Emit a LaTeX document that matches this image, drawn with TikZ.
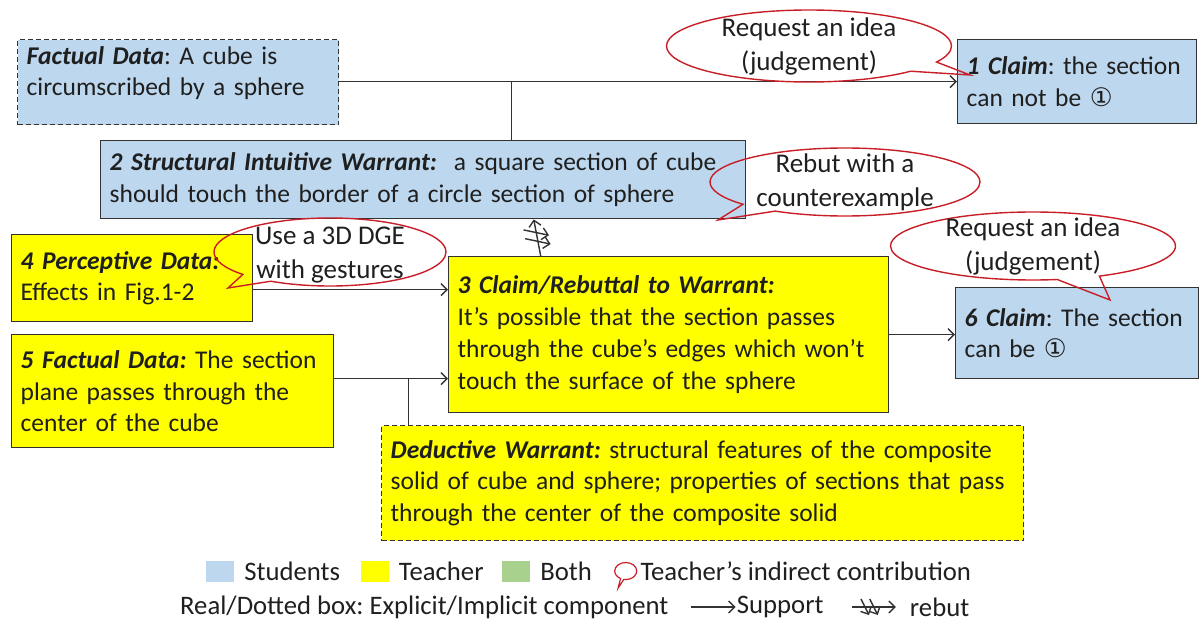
\documentclass[tikz,border=0pt]{standalone}
\usepackage{fontspec}
\setmainfont{Carlito}
\newfontfamily\circfont{DejaVu Sans}
\usepackage{xcolor}
\usetikzlibrary{arrows.meta, positioning, shapes.geometric, shapes.callouts, calc, decorations.markings}
\definecolor{stublue}{RGB}{189,215,238}
\definecolor{teachyel}{RGB}{255,255,0}
\definecolor{bothgreen}{RGB}{169,209,142}
\definecolor{hintred}{RGB}{200,30,40}
\newcommand{\lbl}[1]{\textbf{\textit{#1}}}
\newcommand{\one}{{\circfont\char"2460}}
\frenchspacing

\begin{document}
\begin{tikzpicture}[x=1pt, y=-1pt,
    every node/.style={font=\fontsize{25.5}{31.8}\selectfont, text=black!88},
    box/.style={rectangle, draw=black!80, line width=1.4pt, anchor=north west, align=left, inner xsep=9pt, inner ysep=0pt},
    students/.style={box, fill=stublue},
    teacher/.style={box, fill=teachyel},
    implicit/.style={dash pattern=on 5pt off 3pt},
    link/.style={draw=black!80, line width=1.4pt},
    support/.style={link, -{Straight Barb[length=6pt,width=12pt]}},
    rebut/.style={support, postaction={decorate}, decoration={markings,
        mark=at position 0.4 with {\draw[line width=1.4pt] (5pt,12pt) -- (-5pt,-12pt);},
        mark=at position 0.64 with {\draw[line width=1.4pt] (5pt,12pt) -- (-5pt,-12pt);}}},
    keyrebut/.style={support, postaction={decorate}, decoration={markings,
        mark=at position 0.3 with {\draw[line width=1.4pt] (-4pt,8pt) -- (4pt,-8pt);},
        mark=at position 0.5 with {\draw[line width=1.4pt] (-4pt,8pt) -- (4pt,-8pt);}}},
    hint/.style={ellipse callout, draw=hintred, line width=1.4pt, callout pointer arc=18},
    hinttext/.style={align=center, inner sep=0pt, font=\fontsize{27}{34}\selectfont},
    keysq/.style={rectangle, minimum width=28pt, minimum height=21pt, inner sep=0pt},
    keytext/.style={inner sep=0pt, anchor=west, font=\fontsize{26.7}{32}\selectfont}
  ]
  \useasboundingbox (0,0) rectangle (1200,623);

  \node[students, implicit, minimum width=321, minimum height=85, text width=303, text depth=54pt] (fact0) at (17,39)
    {\lbl{Factual Data}: A cube is\\circumscribed by a sphere};
  \node[students, minimum width=239, minimum height=84, text width=221] (claim1) at (957,39)
    {\lbl{1 Claim}: the section\\can not be \one};
  \node[students, minimum width=645, minimum height=78, text width=627] (warrant2) at (100,140)
    {\lbl{2 Structural Intuitive Warrant:}\ \ a square section of cube\\should touch the border of a circle section of sphere};
  \node[teacher, minimum width=241, minimum height=87, text width=223] (percep4) at (11,234)
    {\lbl{4 Perceptive Data:}\\Effects in Fig.1-2};
  \node[teacher, minimum width=322, minimum height=113, text width=304] (fact5) at (11,334)
    {\lbl{5 Factual Data:} The section\\plane passes through the\\center of the cube};
  \node[teacher, minimum width=440, minimum height=156, text width=422] (claim3) at (448,256)
    {\lbl{3 Claim/Rebuttal to Warrant:}\\It's possible that the section passes\\through the cube's edges which won't\\touch the surface of the sphere};
  \node[students, minimum width=243, minimum height=91, text width=225] (claim6) at (955,287)
    {\lbl{6 Claim}: The section\\can be \one};
  \node[teacher, implicit, minimum width=642, minimum height=115, text width=624] (deduct) at (381,425)
    {\lbl{Deductive Warrant:} structural features of the composite\\solid of cube and sphere; properties of sections that pass\\through the center of the composite solid};

  \draw[support] (fact0.east |- claim1.west) -- (claim1.west);
  \coordinate (j1) at ($(fact0.east |- claim1.west)!0.279!(claim1.west)$);
  \draw[link] (j1) -- (j1 |- warrant2.north);
  \draw[rebut] ($(claim3.north west)!0.21!(claim3.north east)$) -- ($(warrant2.south west)!0.671!(warrant2.south east)$);
  \draw[support] ([yshift=-11.5pt]percep4.east) -- ([yshift=-11.5pt]percep4.east -| claim3.west);
  \draw[support] ([yshift=12.5pt]fact5.east) -- ([yshift=12.5pt]fact5.east -| claim3.west);
  \coordinate (j2) at ($([yshift=12.5pt]fact5.east)!0.65!([yshift=12.5pt]fact5.east -| claim3.west)$);
  \draw[link] (j2) -- (j2 |- deduct.north);
  \draw[support] (claim3.east) -- (claim3.east -| claim6.west);

  \node[hint, minimum width=285, minimum height=72, callout absolute pointer={(970,75)}] (hintA) at (809,46) {};
  \node[hinttext] (hintAtxt) at (hintA.center) {Request an idea\\(judgement)};
  \node[hint, minimum width=270, minimum height=68, callout absolute pointer={(718,220)}] (hintB) at (845,182) {};
  \node[hinttext] (hintBtxt) at (hintB.center) {Rebut with a\\counterexample};
  \node[hint, minimum width=232, minimum height=68, callout absolute pointer={(228,288)}] (hintC) at (330,252) {};
  \node[hinttext] (hintCtxt) at ([yshift=-3pt]hintC.center) {Use a 3D DGE\\with gestures};
  \node[hint, minimum width=285, minimum height=68, callout absolute pointer={(1110,300)}] (hintD) at (1033,246) {};
  \node[hinttext] (hintDtxt) at (hintD.center) {Request an idea\\(judgement)};

  \node[keysq, fill=stublue] (keyS) at (220,571) {};
  \node[keytext, right=10pt of keyS] (keySt) {Students};
  \node[keysq, fill=teachyel, right=20pt of keySt] (keyT) {};
  \node[keytext, right=10pt of keyT] (keyTt) {Teacher};
  \node[keysq, fill=bothgreen, right=18pt of keyTt] (keyB) {};
  \node[keytext, right=10pt of keyB] (keyBt) {Both};
  \node[hint, minimum width=22, minimum height=17, line width=1.2pt, right=22pt of keyBt, callout relative pointer={(-4pt,-9pt)}] (keyH) {};
  \node[keytext, right=3pt of keyH] (keyHt) {Teacher's indirect contribution};

  \node[keytext] (keyR) at (180,607) {Real/Dotted box: Explicit/Implicit component};
  \coordinate[right=22pt of keyR] (keyA);
  \node[keytext, right=46pt of keyA] (keySu) {Support};
  \draw[support] (keyA) -- ([xshift=-1pt]keySu.west);
  \coordinate[right=28pt of keySu] (keyC);
  \node[keytext, right=58pt of keyC] (keyRb) {rebut};
  \draw[keyrebut] (keyC) -- ([xshift=-14pt]keyRb.west);
\end{tikzpicture}
\end{document}
